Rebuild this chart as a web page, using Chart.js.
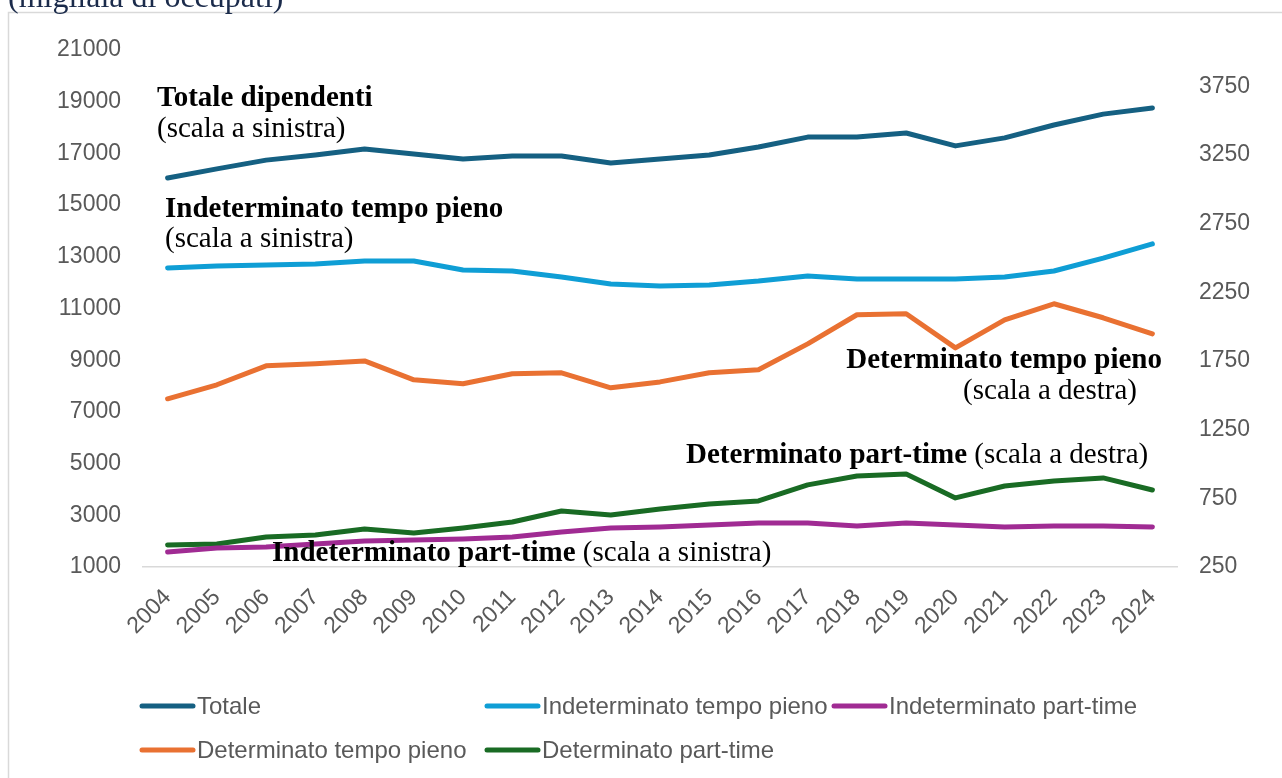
<!DOCTYPE html>
<html>
<head>
<meta charset="utf-8">
<script src="https://cdn.jsdelivr.net/npm/chart.js@4.4.1/dist/chart.umd.min.js"></script>
<style>
  html, body { margin: 0; padding: 0; background: #fff; overflow: hidden; }
  #wrap { position: relative; width: 1282px; height: 778px; }
</style>
</head>
<body>
<div id="wrap"><canvas id="chart" width="1282" height="778"></canvas></div>
<script>
// anni
const years = ['2004', '2005', '2006', '2007', '2008', '2009', '2010', '2011', '2012', '2013', '2014',
               '2015', '2016', '2017', '2018', '2019', '2020', '2021', '2022', '2023', '2024'];

// scala a sinistra (migliaia)
const totale = [16050, 16400, 16740, 16940, 17170, 16980, 16780, 16900, 16900, 16630, 16780,
                16940, 17250, 17630, 17630, 17790, 17290, 17600, 18100, 18520, 18760];
const indetPieno = [12570, 12640, 12680, 12720, 12840, 12840, 12490, 12450, 12220, 11950, 11870,
                    11910, 12060, 12260, 12140, 12140, 12140, 12220, 12450, 12950, 13500];
const indetPart = [1580, 1735, 1775, 1890, 2005, 2045, 2085, 2160, 2355, 2510, 2550,
                   2625, 2700, 2700, 2585, 2700, 2625, 2550, 2585, 2585, 2550];

// scala a destra (migliaia)
const detPieno = [1475, 1577, 1715, 1730, 1751, 1613, 1584, 1657, 1664, 1555, 1598,
                  1664, 1686, 1875, 2087, 2094, 1846, 2050, 2167, 2065, 1948];
const detPart = [410, 418, 469, 483, 527, 498, 534, 578, 658, 629, 673,
                 709, 731, 848, 913, 928, 753, 840, 877, 899, 811];

const leftTicks = [1000, 3000, 5000, 7000, 9000, 11000, 13000, 15000, 17000, 19000, 21000];
const rightTicks = [250, 750, 1250, 1750, 2250, 2750, 3250, 3750];

const tickFont = { family: "'Liberation Sans', Arial, sans-serif", size: 23 };
const tickColor = '#595959';

// cornice, titolo, etichette e legenda
const extras = {
    id: 'extras',
    beforeDraw(chart) {
        const ctx = chart.ctx;
        ctx.save();
        ctx.strokeStyle = '#d9d9d9';
        ctx.lineWidth = 1.5;
        ctx.strokeRect(8.5, 12.5, 1400, 900);
        ctx.restore();
    },
    afterDraw(chart) {
        const ctx = chart.ctx;
        const serif = "'Liberation Serif', 'Times New Roman', serif";
        ctx.save();

        ctx.fillStyle = '#1b2b4b';
        ctx.font = '32px ' + serif;
        ctx.textBaseline = 'alphabetic';
        ctx.fillText('(migliaia di occupati)', 8, 7);

        ctx.fillStyle = '#000';
        function two(bold, normal, x, y) {
            ctx.textAlign = 'left';
            ctx.font = 'bold 29px ' + serif;
            const wb = ctx.measureText(bold).width;
            ctx.fillText(bold, x, y);
            ctx.font = '29px ' + serif;
            ctx.fillText(' ' + normal, x + wb, y);
        }
        function line(text, x, y, bold, align) {
            ctx.font = (bold ? 'bold ' : '') + '29px ' + serif;
            ctx.textAlign = align || 'left';
            ctx.fillText(text, x, y);
        }
        line('Totale dipendenti', 157, 106, true);
        line('(scala a sinistra)', 157, 137, false);
        line('Indeterminato tempo pieno', 165, 217, true);
        line('(scala a sinistra)', 165, 247, false);
        line('Determinato tempo pieno', 1162, 368, true, 'right');
        line('(scala a destra)', 1137, 399, false, 'right');
        two('Determinato part-time', '(scala a destra)', 686, 463);
        two('Indeterminato part-time', '(scala a sinistra)', 272, 561);

        // legenda
        const slots = [[140, 706], [485, 706], [832, 706], [140, 750], [485, 750]];
        ctx.font = "24px 'Liberation Sans', Arial, sans-serif";
        ctx.textAlign = 'left';
        ctx.textBaseline = 'middle';
        chart.data.datasets.forEach((ds, i) => {
            const [x, y] = slots[i];
            ctx.strokeStyle = ds.borderColor;
            ctx.lineWidth = 5;
            ctx.lineCap = 'round';
            ctx.beginPath();
            ctx.moveTo(x + 2, y);
            ctx.lineTo(x + 53, y);
            ctx.stroke();
            ctx.fillStyle = '#595959';
            ctx.fillText(ds.label, x + 57, y + 1);
        });
        ctx.restore();
    }
};

function lineSet(label, data, color, axis) {
    return {
        label: label,
        data: data,
        borderColor: color,
        backgroundColor: color,
        borderWidth: 5,
        borderCapStyle: 'round',
        borderJoinStyle: 'round',
        pointRadius: 0,
        tension: 0,
        yAxisID: axis
    };
}

const plain = v => String(v);

new Chart(document.getElementById('chart'), {
    type: 'line',
    data: {
        labels: years,
        datasets: [
            lineSet('Totale', totale, '#156082', 'y'),
            lineSet('Indeterminato tempo pieno', indetPieno, '#0f9ed5', 'y'),
            lineSet('Indeterminato part-time', indetPart, '#a02b93', 'y'),
            lineSet('Determinato tempo pieno', detPieno, '#e97132', 'y1'),
            lineSet('Determinato part-time', detPart, '#196b24', 'y1')
        ]
    },
    options: {
        responsive: false,
        animation: false,
        layout: { padding: { top: 50, left: 0, right: 0, bottom: 0 } },
        plugins: {
            legend: { display: false },
            tooltip: { enabled: false }
        },
        scales: {
            x: {
                offset: true,
                grid: { display: false, drawTicks: false },
                border: { display: true, color: '#d9d9d9', width: 1.5 },
                ticks: {
                    autoSkip: false,
                    minRotation: 45,
                    maxRotation: 45,
                    padding: 17,
                    font: tickFont,
                    color: tickColor
                },
                afterFit(s) { s.height = 211; }
            },
            y: {
                position: 'left',
                min: 1000,
                max: 21000,
                grid: { display: false, drawTicks: false },
                border: { display: false },
                ticks: { padding: 22, font: tickFont, color: tickColor, callback: plain },
                afterBuildTicks(s) { s.ticks = leftTicks.map(v => ({ value: v })); },
                afterFit(s) { s.width = 143; }
            },
            y1: {
                position: 'right',
                min: 250,
                max: 4015,
                grid: { display: false, drawTicks: false },
                border: { display: false },
                ticks: { padding: 22, font: tickFont, color: tickColor, callback: plain },
                afterBuildTicks(s) { s.ticks = rightTicks.map(v => ({ value: v })); },
                afterFit(s) { s.width = 105; }
            }
        }
    },
    plugins: [extras]
});
</script>
</body>
</html>
